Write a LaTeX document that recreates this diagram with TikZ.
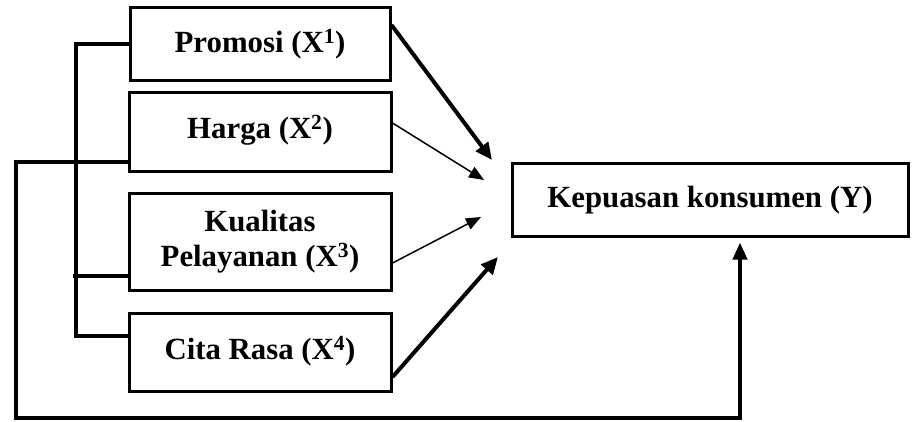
\documentclass[tikz,border=0pt]{standalone}
\usepackage{fontspec}
\setmainfont{Liberation Serif}
\usetikzlibrary{arrows.meta}
\begin{document}
\begin{tikzpicture}[x=1pt,y=-1pt,line cap=butt,line join=miter,
    font=\fontsize{30.8}{35}\selectfont\bfseries,
    kotak/.style={draw,line width=3pt,align=center,inner sep=0pt},
    tebal/.style={line width=4pt,-{Triangle[length=17pt,width=15pt]}},
    tipis/.style={line width=1.5pt,-{Triangle[length=15pt,width=12pt]}},
    garis/.style={line width=4pt}]
  \useasboundingbox (0,0) rectangle (920,421);
  % variabel bebas
  \node[kotak,minimum width=260pt,minimum height=73pt] (promosi) at (260,44) {Promosi (X\textsuperscript{1})};
  \node[kotak,minimum width=262pt,minimum height=79pt,text depth=10pt] (harga) at (260,132) {Harga (X\textsuperscript{2})};
  \node[kotak,minimum width=262pt,minimum height=97pt] (kualitas) at (260,241.5) {Kualitas\\Pelayanan (X\textsuperscript{3})};
  \node[kotak,minimum width=262pt,minimum height=78pt,text depth=8pt] (citarasa) at (260,352) {Cita Rasa (X\textsuperscript{4})};
  % variabel terikat
  \node[kotak,minimum width=396pt,minimum height=73pt,text depth=5pt] (kepuasan) at (710,199.5) {Kepuasan konsumen (Y)};
  % ujung panah
  \coordinate (t1) at (492,160);
  \coordinate (t2) at (484,180);
  \coordinate (t3) at (481,217);
  \coordinate (t4) at (498,257);
  \draw[tebal] ([yshift=19pt]promosi.east) -- (t1);
  \draw[tipis] ([yshift=9pt]harga.east) -- (t2);
  \draw[tipis] ([yshift=-21.5pt]kualitas.east) -- (t3);
  \draw[tebal] ([yshift=-25pt]citarasa.east) -- (t4);
  % garis kurung kiri
  \draw[garis] (promosi.west) -- (78,44);
  \draw[garis] (76,42) -- (76,336) -- ([yshift=16pt]citarasa.west);
  \draw[garis] (73,276) -- ([yshift=-34.5pt]kualitas.west);
  \draw[garis,-{Triangle[length=17pt,width=14pt]}] ([yshift=-30pt]harga.west) -- (16,162) -- (16,418) -- (740,418) -- ([xshift=30pt,yshift=-5pt]kepuasan.south);
\end{tikzpicture}
\end{document}
